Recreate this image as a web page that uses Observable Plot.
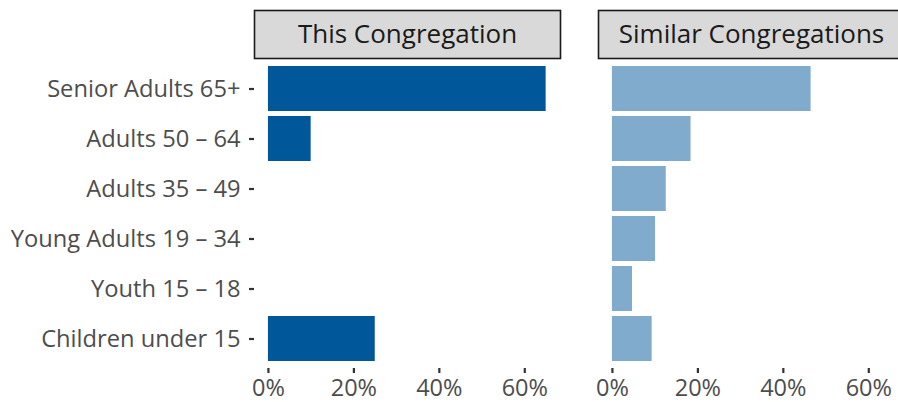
<!DOCTYPE html>
<html>
<head>
<meta charset="utf-8">
<script src="https://cdn.jsdelivr.net/npm/d3@7"></script>
<script src="https://cdn.jsdelivr.net/npm/@observablehq/plot@0.6"></script>
<style>
  body { margin: 0; background: #fff; }
  #chart svg { overflow: visible; }
</style>
</head>
<body>
<div id="chart"></div>
<script>
const ages = ["Senior Adults 65+", "Adults 50 – 64", "Adults 35 – 49", "Young Adults 19 – 34", "Youth 15 – 18", "Children under 15"];
const groups = ["This Congregation", "Similar Congregations"];
const thisCongregation = [65, 10, 0, 0, 0, 25];
const similarCongregations = [46.5, 18.4, 12.6, 10.1, 4.7, 9.3];
const xTicks = [0, 20, 40, 60];
const colors = ["#00589B", "#80ABCD"];

const data = ages.flatMap((age, i) => [
  {group: groups[0], age, value: thisCongregation[i]},
  {group: groups[1], age, value: similarCongregations[i]}
]);

const chart = Plot.plot({
  width: 898,
  height: 402,
  marginLeft: 254,
  marginRight: -7,
  marginTop: 58,
  marginBottom: 34,
  style: {fontFamily: "'Open Sans', sans-serif", background: "white", overflow: "visible"},
  fx: {domain: groups, paddingInner: 0.1103, paddingOuter: 0, axis: null},
  x: {domain: [-3.26, 68.36]},
  y: {domain: ages, paddingInner: 0.1, paddingOuter: 0.15},
  color: {domain: groups, range: colors},
  marks: [
    Plot.frame({fill: "#d9d9d9", stroke: "#1a1a1a", strokeWidth: 1.6, insetTop: -48, insetBottom: 310}),
    Plot.text(groups, {fx: d => d, text: d => d, frameAnchor: "top", dy: -24, lineAnchor: "middle", fontSize: 26, fill: "#1a1a1a"}),
    Plot.barX(data, {fx: "group", y: "age", x: "value", fill: "group"}),
    Plot.axisY({tickSize: 5, tickPadding: 9, fontSize: 23.7, stroke: "#333", strokeWidth: 2.2, fill: "#4d4d4d", label: null}),
    Plot.axisX({ticks: xTicks, tickFormat: d => d + "%", tickSize: 5, tickPadding: 6, fontSize: 23.5, stroke: "#333", strokeWidth: 2.2, fill: "#4d4d4d", label: null})
  ]
});
document.getElementById("chart").append(chart);
</script>
</body>
</html>
